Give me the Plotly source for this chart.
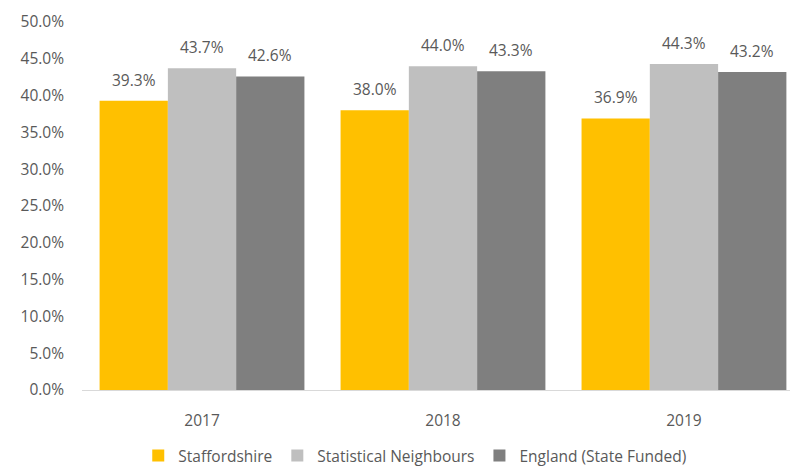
import plotly.graph_objects as go

years = ["2017", "2018", "2019"]
staffordshire = [39.3, 38.0, 36.9]
neighbours = [43.7, 44.0, 44.3]
england = [42.6, 43.3, 43.2]

series = [
    ("Staffordshire", staffordshire, "#FFC000"),
    ("Statistical Neighbours", neighbours, "#BFBFBF"),
    ("England (State Funded)", england, "#7F7F7F"),
]

FONT = "Open Sans, Noto Sans, sans-serif"
TEXT = "#595959"
FS = 15.5

W, H = 790, 471
ML, MR, MT, MB = 82, 0, 22, 81
X_RANGE = [-0.498, 2.44]
BARGAP = 0.15

fig = go.Figure()
for name, vals, color in series:
    fig.add_trace(go.Bar(
        x=years, y=vals, name=name,
        marker=dict(color=color, line=dict(width=0)),
    ))

# value labels above each bar, shifted sideways to the bar's slot in the group
px_per_cat = (W - ML - MR) / (X_RANGE[1] - X_RANGE[0])
bar_px = px_per_cat * (1 - BARGAP) / len(series)
for i, (name, vals, color) in enumerate(series):
    for j, v in enumerate(vals):
        fig.add_annotation(
            x=j, y=v, xref="x", yref="y",
            text=f"{v:.1f}%", showarrow=False,
            xshift=(i - 1) * bar_px, yshift=21,
            xanchor="center", yanchor="middle",
            font=dict(family=FONT, size=FS, color=TEXT),
        )

fig.update_layout(
    width=W, height=H,
    margin=dict(l=ML, r=MR, t=MT, b=MB),
    paper_bgcolor="white", plot_bgcolor="white",
    barmode="group", bargap=BARGAP, bargroupgap=0,
    font=dict(family=FONT, size=FS, color=TEXT),
    legend=dict(orientation="h", xref="container", yref="container",
                x=0.525, xanchor="center", y=0.032, yanchor="middle",
                font=dict(family=FONT, size=FS, color=TEXT), itemwidth=30,
                traceorder="normal"),
)
fig.update_xaxes(
    type="category", range=X_RANGE,
    showline=True, linecolor="#D9D9D9", linewidth=1,
    showgrid=False, ticks="", ticklabelstandoff=16,
    tickfont=dict(family=FONT, size=FS, color=TEXT),
)
fig.update_yaxes(
    range=[0, 50], dtick=5, ticksuffix="%", tickformat=".1f",
    showgrid=False, zeroline=False, showline=False, ticks="",
    ticklabelstandoff=17,
    tickfont=dict(family=FONT, size=FS, color=TEXT),
)

fig.write_html("out.html")
